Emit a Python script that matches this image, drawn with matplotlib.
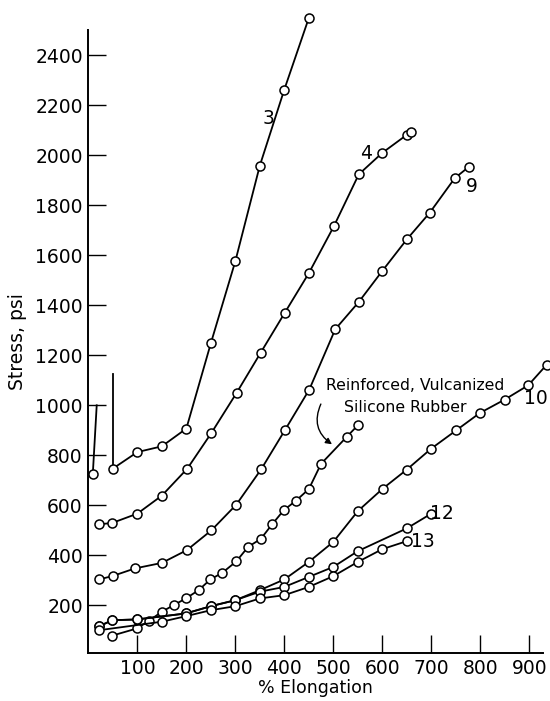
import matplotlib
matplotlib.use("Agg")
import matplotlib.pyplot as plt

# Stress-strain data for the silicone rubber stocks (elongation %, stress psi)
x3 = [50, 100, 150, 200, 250, 300, 350, 400, 450]
y3 = [747, 813, 836, 907, 1248, 1576, 1958, 2262, 2548]

x4 = [22, 49, 100, 150, 202, 251, 303, 352, 401, 450, 501, 552, 600, 650, 659]
y4 = [524, 530, 567, 639, 747, 889, 1051, 1211, 1370, 1528, 1715, 1923, 2009, 2081, 2092]

x9 = [22, 50, 95, 150, 201, 251, 302, 353, 401, 451, 504, 552, 600, 650, 697, 748, 776]
y9 = [304, 318, 348, 370, 421, 500, 603, 745, 900, 1063, 1304, 1413, 1537, 1663, 1770, 1908, 1952]

xsr = [48, 99, 124, 150, 174, 199, 225, 249, 273, 302, 326, 352, 375, 399, 424, 450, 475, 527, 550]
ysr = [79, 108, 139, 175, 201, 228, 261, 304, 330, 376, 434, 466, 524, 581, 619, 665, 766, 873, 920]

x10 = [22, 49, 99, 199, 250, 300, 350, 400, 450, 500, 550, 601, 650, 700, 751, 799, 850, 898, 936]
y10 = [117, 141, 144, 168, 197, 221, 261, 304, 374, 454, 577, 667, 743, 827, 900, 969, 1023, 1080, 1163]

x12 = [22, 49, 99, 199, 250, 300, 350, 400, 450, 500, 550, 650, 700]
y12 = [117, 141, 144, 168, 197, 221, 255, 274, 314, 354, 417, 508, 567]

x13 = [22, 150, 199, 250, 300, 350, 400, 450, 500, 550, 600, 650]
y13 = [101, 135, 157, 181, 197, 228, 241, 274, 317, 374, 425, 457]

# Initial rise segments at the start of stock 3
rise_a_x = [9, 17]
rise_a_y = [725, 1000]
rise_b_x = [50, 50]
rise_b_y = [747, 1125]

xticks = [100, 200, 300, 400, 500, 600, 700, 800, 900]
yticks = [200, 400, 600, 800, 1000, 1200, 1400, 1600, 1800, 2000, 2200, 2400]

plt.rcParams["font.family"] = ["DejaVu Sans"]

fig = plt.figure(figsize=(5.5, 7.01), dpi=100)
ax = fig.add_axes([0.1607, 0.0685, 0.8265, 0.8887])

line_kw = dict(color="black", lw=1.3, marker="o", ms=6.5, mfc="white",
               mec="black", mew=1.1, clip_on=False, zorder=3)

for xs, ys in [(x3, y3), (x4, y4), (x9, y9), (xsr, ysr), (x10, y10), (x12, y12), (x13, y13)]:
    ax.plot(xs, ys, **line_kw)

ax.plot(rise_a_x, rise_a_y, color="black", lw=1.3, clip_on=False, zorder=2)
ax.plot(rise_a_x[:1], rise_a_y[:1], **{**line_kw, "zorder": 4})
ax.plot(rise_b_x, rise_b_y, color="black", lw=1.3, clip_on=False, zorder=2)

ax.set_xlim(0, 928)
ax.set_ylim(10, 2500)

ax.spines["top"].set_visible(False)
ax.spines["right"].set_visible(False)
for s in ("left", "bottom"):
    ax.spines[s].set_linewidth(1.4)

ax.set_xticks(xticks)
ax.set_yticks(yticks)
ax.tick_params(direction="in", length=13, width=1.0, labelsize=13.5, pad=4)

ax.set_xlabel("% Elongation", fontsize=12.5, labelpad=1)
ax.set_ylabel("Stress, psi", fontsize=13.5, labelpad=6)

# Curve labels
txt_kw = dict(fontsize=13.5, color="black")
ax.text(368, 2145, "3", ha="center", va="center", **txt_kw)
ax.text(567, 2008, "4", ha="center", va="center", **txt_kw)
ax.text(783, 1875, "9", ha="center", va="center", **txt_kw)
ax.text(913, 1028, "10", ha="center", va="center", **txt_kw)
ax.text(722, 567, "12", ha="center", va="center", **txt_kw)
ax.text(682, 454, "13", ha="center", va="center", **txt_kw)

ax.text(667, 1080, "Reinforced, Vulcanized", ha="center", va="center", fontsize=11.3)
ax.text(646, 993, "Silicone Rubber", ha="center", va="center", fontsize=11.3)

ax.annotate("", xy=(502, 838), xytext=(477, 1015),
            arrowprops=dict(arrowstyle="-|>", color="black", lw=1.0,
                            connectionstyle="arc3,rad=0.45", mutation_scale=9))

fig.savefig("out.png", dpi=100)
